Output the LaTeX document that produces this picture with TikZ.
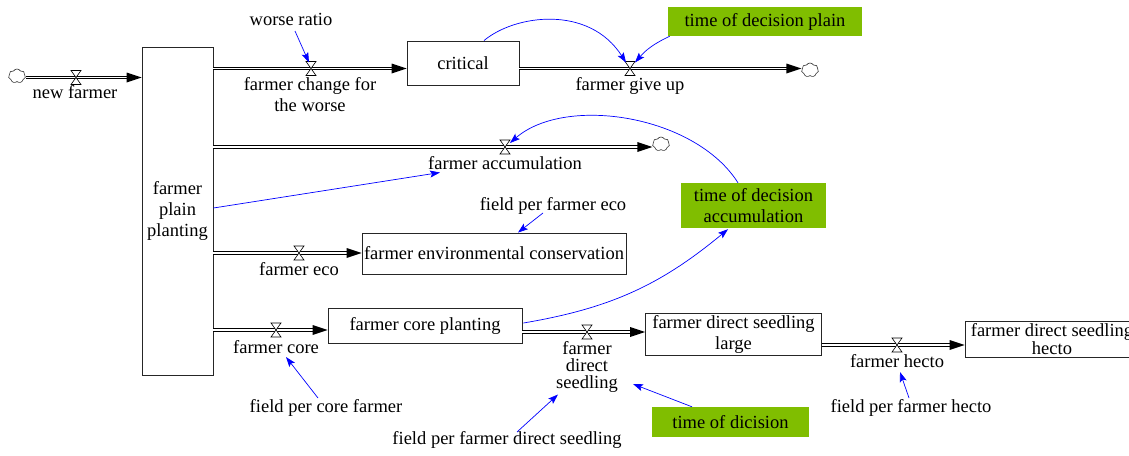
\documentclass[tikz,border=0pt]{standalone}
\usepackage{fontspec}
\setmainfont{Liberation Serif}
\usetikzlibrary{arrows.meta,calc,shapes.symbols,decorations.markings}
\definecolor{vargreen}{RGB}{128,190,0}
\definecolor{linkblue}{RGB}{0,0,255}
\begin{document}
\begin{tikzpicture}[x=1pt,y=-1pt,
  every node/.style={font=\fontsize{18.5pt}{21pt}\selectfont, inner sep=0pt},
  stockbox/.style={draw=black!85, line width=0.9pt, fill=white, align=center},
  auxbox/.style={fill=vargreen, align=center},
  lbl/.style={align=center},
  pipe/.style={draw=black, line width=0.75pt, double=white, double distance=1.6pt},
  pipeto/.style={pipe, shorten >=9pt,
    postaction={decorate, decoration={markings, mark=at position 1 with
      {\fill[black] (0pt,0pt) -- (-15pt,5pt) -- (-15pt,-5pt) -- cycle;}}}},
  link/.style={draw=linkblue, line width=0.7pt, -{Stealth[length=10pt,width=7pt,inset=2pt]}},
  sink/.style={cloud, cloud puffs=7, cloud puff arc=120, aspect=1.25, draw=black!80,
    line width=0.6pt, minimum width=17pt, minimum height=14pt, inner sep=0pt},
  valve/.pic={\draw[fill=white, line width=0.6pt] (-5,-7) -- (5,-7) -- (-5,7) -- (5,7) -- cycle;}
]
\fill[white] (0,0) rectangle (1129,455);
\useasboundingbox (0,0) rectangle (1129,455);

% stocks
\node[stockbox, minimum width=71pt, minimum height=328pt] (stock) at (177.5,211) {farmer\\plain\\planting};
\node[stockbox, minimum width=112pt, minimum height=44pt] (crit) at (463,63) {critical};
\node[stockbox, minimum width=264pt, minimum height=41pt] (eco) at (494,253.5) {farmer environmental conservation};
\node[stockbox, minimum width=194pt, minimum height=35pt] (core) at (425,325.5) {farmer core planting};
\node[stockbox, minimum width=176pt, minimum height=42pt] (large) at (733.5,334) {farmer direct seedling\\large};
\node[stockbox, minimum width=174pt, minimum height=36pt, font=\fontsize{18.5pt}{15.5pt}\selectfont] (hecto) at (1052,339) {farmer direct seedling\\hecto};

% decision-time parameters
\node[auxbox, minimum width=194pt, minimum height=29pt] (tdp) at (765,21.5) {time of decision plain};
\node[auxbox, minimum width=145pt, minimum height=45pt] (tda) at (753.5,205.5) {time of decision\\accumulation};
\node[auxbox, minimum width=157pt, minimum height=30pt] (tdd) at (730.5,422) {time of dicision};

% sources and sinks
\node[sink] (src) at (17,76) {};
\node[sink] (snk1) at (810,70) {};
\node[sink] (snk2) at (661,144) {};

% valve positions
\coordinate (vnew) at (76,77.5);
\coordinate (vworse) at (311,68.5);
\coordinate (vgive) at (630,68.5);
\coordinate (vacc) at (505,147);
\coordinate (veco) at (299,253);
\coordinate (vcore) at (276,330);
\coordinate (vds) at (587,332);
\coordinate (vhec) at (897,345);

% flows
\draw[pipeto] (src.east |- vnew) -- (vnew) -- (stock.west |- vnew);
\draw[pipeto] (stock.east |- vworse) -- (vworse) -- (crit.west |- vworse);
\draw[pipeto] (crit.east |- vgive) -- (vgive) -- (snk1.west |- vgive);
\draw[pipeto] (stock.east |- vacc) -- (vacc) -- (snk2.west |- vacc);
\draw[pipeto] (stock.east |- veco) -- (veco) -- (eco.west |- veco);
\draw[pipeto] (stock.east |- vcore) -- (vcore) -- (core.west |- vcore);
\draw[pipeto] (core.east |- vds) -- (vds) -- (large.west |- vds);
\draw[pipeto] (large.east |- vhec) -- (vhec) -- (hecto.west |- vhec);

\foreach \vv in {vnew,vworse,vgive,vacc,veco,vcore,vds,vhec}
  \pic at (\vv) {valve};

% flow and auxiliary labels
\node[lbl] (lnew) at (75,92) {new farmer};
\node[lbl] (lworse) at (310,94.5) {farmer change for\\the worse};
\node[lbl] (wr) at (291,19) {worse ratio};
\node[lbl] (lgive) at (630,86) {farmer give up};
\node[lbl] (lacc) at (505,163) {farmer accumulation};
\node[lbl] (fpe) at (553,206) {field per farmer eco};
\node[lbl] (leco) at (299,269.5) {farmer eco};
\node[lbl] (lcore) at (276,347) {farmer core};
\node[lbl] (fpc) at (326,408) {field per core farmer};
\node[lbl, font=\fontsize{18.5pt}{17pt}\selectfont] (lds) at (587,366.5) {farmer\\direct\\seedling};
\node[lbl] (fpd) at (507,440) {field per farmer direct seedling};
\node[lbl] (lhec) at (897,361) {farmer hecto};
\node[lbl] (fph) at (911,408) {field per farmer hecto};

% causal links
\draw[link] ($(wr)+(4,12)$) -- ($(vworse)+(-2,-6)$);
\draw[link] ($(crit.north)+(21,0)$) .. controls +(31,-26) and +(-37,-58) .. ($(vgive)+(-4,-6)$);
\draw[link] ($(tdp.south west)+(2,0)$) to[bend right=12] ($(vgive)+(5,-6)$);
\draw[link] ($(tda.north)+(-15.5,0)$) .. controls +(-43,-68) and +(55,-48) .. ($(vacc)+(5,-4)$);
\draw[link] ($(stock.east)+(0,-3)$) -- ($(lacc)+(-65,9.5)$);
\draw[link] ($(fpe)+(-10,7)$) -- ($(eco.north)+(24,0)$);
\draw[link] ($(core.east)+(1,-2.5)$) to[bend right=15] ($(tda.south)+(-25.5,1)$);
\draw[link] ($(fpc)+(-8,-10)$) -- ($(lcore)+(10,10)$);
\draw[link] ($(fpd)+(10,-8)$) -- ($(lds)+(-29,28)$);
\draw[link] ($(tdd.north)+(-38.5,0)$) -- ($(lds)+(46,17.5)$);
\draw[link] ($(fph)+(-2,-10)$) -- ($(lhec)+(3,11)$);
\end{tikzpicture}
\end{document}
